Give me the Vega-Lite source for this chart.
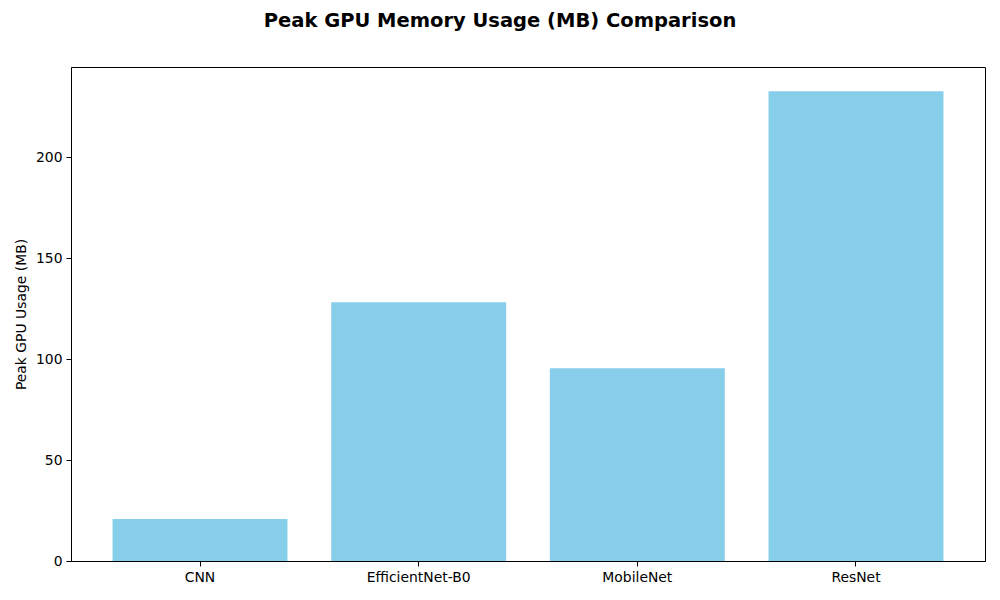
{
  "$schema": "https://vega.github.io/schema/vega-lite/v6.json",
  "autosize": "none",
  "width": 914,
  "height": 494,
  "padding": {"left": 71, "top": 67, "right": 15, "bottom": 39},
  "background": "white",
  "title": {
    "text": "Peak GPU Memory Usage (MB) Comparison",
    "font": "DejaVu Sans",
    "fontSize": 19.5,
    "fontWeight": "bold",
    "color": "black",
    "anchor": "middle",
    "dx": -28,
    "offset": 36
  },
  "config": {
    "view": {"stroke": "black", "strokeWidth": 1},
    "font": "DejaVu Sans",
    "axis": {
      "domainColor": "black",
      "tickColor": "black",
      "labelColor": "black",
      "titleColor": "black",
      "labelFont": "DejaVu Sans",
      "titleFont": "DejaVu Sans",
      "labelFontSize": 13.9,
      "titleFontSize": 13.9,
      "titleFontWeight": "normal",
      "tickSize": 5,
      "grid": false
    }
  },
  "data": {
    "values": [
      {"model": "CNN", "usage": 20.8},
      {"model": "EfficientNet-B0", "usage": 128.2},
      {"model": "MobileNet", "usage": 95.5},
      {"model": "ResNet", "usage": 232.6}
    ]
  },
  "mark": {"type": "bar", "color": "#87CEEB"},
  "encoding": {
    "x": {
      "field": "model",
      "type": "nominal",
      "sort": null,
      "scale": {"paddingInner": 0.2, "paddingOuter": 0.19},
      "axis": {"title": null, "labelAngle": 0, "labelPadding": 4}
    },
    "y": {
      "field": "usage",
      "type": "quantitative",
      "scale": {"domain": [0, 244.65], "nice": false},
      "axis": {"title": "Peak GPU Usage (MB)", "values": [0, 50, 100, 150, 200], "titlePadding": 7, "labelPadding": 4}
    }
  }
}
